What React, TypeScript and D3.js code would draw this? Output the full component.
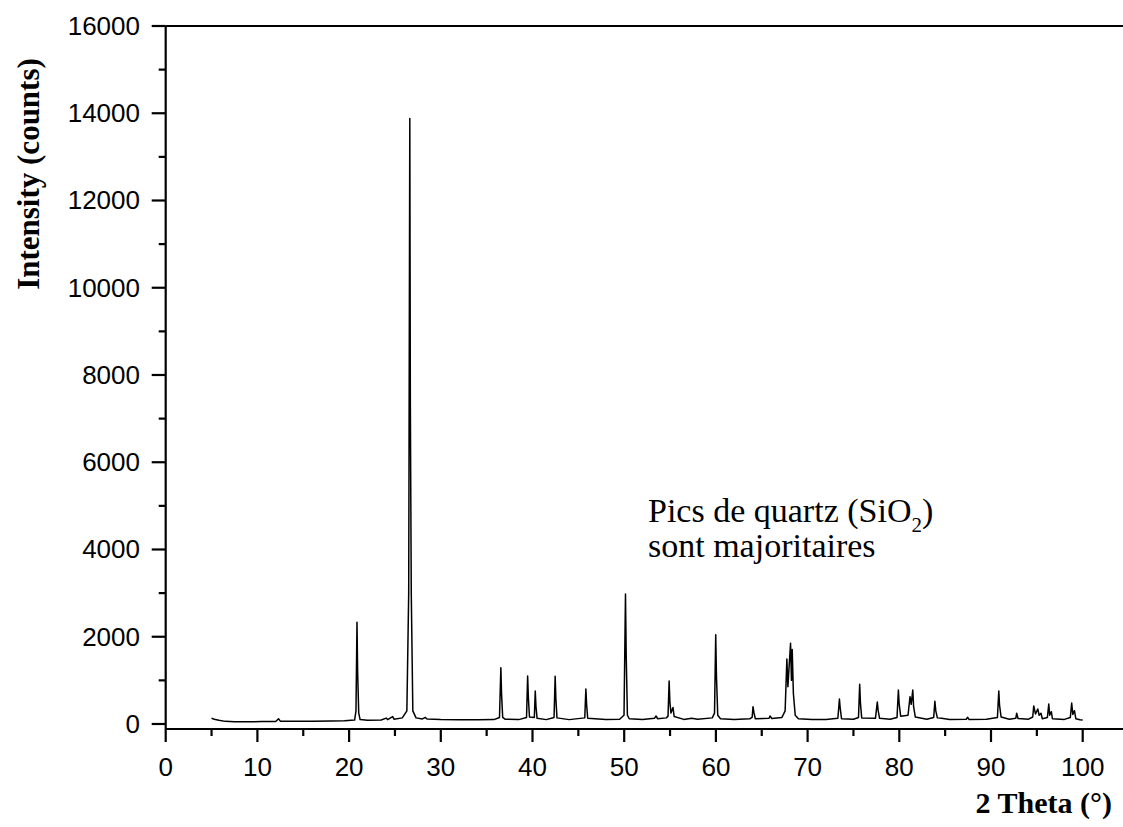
import React from "react";
import * as d3 from "d3";

// XRD pattern vertices: [2θ (°), intensity (counts)]
const pattern: [number, number][] = [
  [5.0, 130], [5.3, 110], [5.8, 85], [6.5, 60], [7.5, 50], [9, 52], [10.5, 55], [12.0, 58],
  [12.3, 120], [12.5, 65], [14, 60], [16, 62], [18, 68], [19.5, 72], [20.6, 90],
  [20.75, 300], [20.86, 2330], [20.93, 1200], [21.05, 250], [21.2, 100],
  [22, 88], [23.5, 92], [24.05, 135], [24.2, 100], [24.75, 170], [24.9, 110], [25.8, 140],
  [26.3, 300], [26.5, 3000], [26.62, 13880], [26.68, 7300], [26.78, 3000], [26.95, 300],
  [27.3, 140], [28.0, 115], [28.3, 150], [28.5, 115], [30, 100], [32, 95], [34, 95], [35.8, 100],
  [36.4, 150], [36.55, 1290], [36.62, 710], [36.75, 150], [37, 110], [38.5, 100],
  [39.35, 150], [39.47, 1100], [39.55, 600], [39.67, 160],
  [40.2, 150], [40.3, 756], [40.38, 400], [40.5, 130], [41.5, 100],
  [42.35, 150], [42.47, 1092], [42.55, 573], [42.67, 140], [44, 100],
  [45.7, 140], [45.82, 802], [45.9, 450], [46.02, 130], [48, 100], [49.5, 110],
  [49.98, 200], [50.14, 2980], [50.22, 1550], [50.35, 200], [50.55, 120], [52, 105],
  [53.3, 130], [53.47, 183], [53.65, 120], [54.6, 140],
  [54.78, 180], [54.9, 985], [54.98, 510], [55.1, 250], [55.32, 380], [55.45, 170],
  [56.5, 105], [57.36, 130], [58, 110], [59.6, 140],
  [59.85, 250], [59.98, 2045], [60.06, 1100], [60.2, 200], [60.5, 120], [62, 105], [63.7, 120],
  [63.95, 150], [64.05, 397], [64.15, 260], [64.3, 120], [65.8, 130], [65.9, 183], [66.1, 125], [67.2, 150],
  [67.55, 300], [67.74, 1490], [67.85, 855], [68.14, 1850], [68.24, 1000], [68.32, 1710], [68.45, 700],
  [68.65, 200], [69.0, 120], [70.5, 100], [72, 105], [73.3, 130],
  [73.47, 573], [73.56, 350], [73.7, 120], [75.0, 110],
  [75.55, 150], [75.68, 909], [75.76, 488], [75.9, 140], [77.4, 130],
  [77.6, 504], [77.7, 300], [77.85, 130], [79.0, 110],
  [79.75, 150], [79.9, 779], [79.98, 474], [80.15, 180], [80.95, 200],
  [81.17, 626], [81.3, 450], [81.47, 779], [81.56, 397], [81.75, 160], [83.0, 110],
  [83.75, 150], [83.88, 520], [83.98, 300], [84.15, 140], [84.6, 130], [85.5, 105],
  [87.3, 110], [87.46, 153], [87.6, 105], [89.5, 110],
  [90.7, 150], [90.85, 756], [90.93, 435], [91.1, 160], [92.0, 110],
  [92.7, 130], [92.8, 245], [92.95, 125], [94.1, 110],
  [94.55, 160], [94.66, 412], [94.85, 230], [95.1, 343], [95.25, 200], [95.45, 245], [95.6, 120],
  [96.15, 150], [96.3, 458], [96.4, 200], [96.58, 282], [96.7, 120], [98.0, 105],
  [98.65, 150], [98.8, 481], [98.92, 220], [99.1, 305], [99.25, 120], [99.7, 95], [100.0, 92],
];

const xMajorTicks = [0, 10, 20, 30, 40, 50, 60, 70, 80, 90, 100];
const xMinorTicks = [5, 15, 25, 35, 45, 55, 65, 75, 85, 95];
const yMajorTicks = [0, 2000, 4000, 6000, 8000, 10000, 12000, 14000, 16000];
const yMinorTicks = [1000, 3000, 5000, 7000, 9000, 11000, 13000, 15000];

const xTitle = "2 Theta (°)";
const yTitle = "Intensity (counts)";
const noteLine1 = "Pics de quartz (SiO";
const noteSub = "2";
const noteEnd = ")";
const noteLine2 = "sont majoritaires";

const W = 1123;
const H = 827;
const left = 165.7;
const top = 26;
const bottom = 729;

export default function App() {
  const x = d3.scaleLinear().domain([0, 100]).range([left, 1082.7]);
  const y = d3.scaleLinear().domain([-115, 16000]).range([bottom, top]);
  const line = d3
    .line<[number, number]>()
    .x((d) => x(d[0]))
    .y((d) => y(d[1]));

  const tickFont = { fontFamily: "'Liberation Sans', Arial, sans-serif", fontSize: 26 };
  const serif = "'Liberation Serif', 'Times New Roman', serif";

  return (
    <svg
      width={W}
      height={H}
      style={{ position: "absolute", left: 0, top: 0, background: "#fff" }}
    >
      <rect x={0} y={0} width={W} height={H} fill="#fff" />
      {/* data */}
      <path d={line(pattern) || ""} fill="none" stroke="#000" strokeWidth={1.5} strokeLinejoin="round" />

      {/* axes */}
      <line x1={left} x2={W} y1={bottom} y2={bottom} stroke="#000" strokeWidth={2.2} />
      <line x1={left} x2={left} y1={top} y2={bottom} stroke="#000" strokeWidth={2.2} />
      <line x1={left} x2={W} y1={top} y2={top} stroke="#000" strokeWidth={2.2} />

      {xMajorTicks.map((t) => (
        <g key={"xM" + t}>
          <line x1={x(t)} x2={x(t)} y1={bottom} y2={bottom + 13} stroke="#000" strokeWidth={2.2} />
          <text x={x(t)} y={776} textAnchor="middle" {...tickFont}>
            {t}
          </text>
        </g>
      ))}
      {xMinorTicks.map((t) => (
        <line key={"xm" + t} x1={x(t)} x2={x(t)} y1={bottom} y2={bottom + 7} stroke="#000" strokeWidth={2.2} />
      ))}
      {yMajorTicks.map((t) => (
        <g key={"yM" + t}>
          <line x1={left - 14} x2={left} y1={y(t)} y2={y(t)} stroke="#000" strokeWidth={2.2} />
          <text x={140} y={y(t) + 9} textAnchor="end" {...tickFont}>
            {t}
          </text>
        </g>
      ))}
      {yMinorTicks.map((t) => (
        <line key={"ym" + t} x1={left - 7} x2={left} y1={y(t)} y2={y(t)} stroke="#000" strokeWidth={2.2} />
      ))}

      {/* axis titles */}
      <text
        x={1112}
        y={813}
        textAnchor="end"
        fontFamily={serif}
        fontWeight="bold"
        fontSize={30}
      >
        {xTitle}
      </text>
      <text
        transform={`translate(39, ${174}) rotate(-90)`}
        textAnchor="middle"
        fontFamily={serif}
        fontWeight="bold"
        fontSize={31}
      >
        {yTitle}
      </text>

      {/* annotation */}
      <text x={648} y={522} fontFamily={serif} fontSize={34}>
        {noteLine1}
        <tspan fontSize={21} dy={10}>{noteSub}</tspan>
        <tspan dy={-10}>{noteEnd}</tspan>
      </text>
      <text x={648} y={557} fontFamily={serif} fontSize={34}>
        {noteLine2}
      </text>
    </svg>
  );
}
